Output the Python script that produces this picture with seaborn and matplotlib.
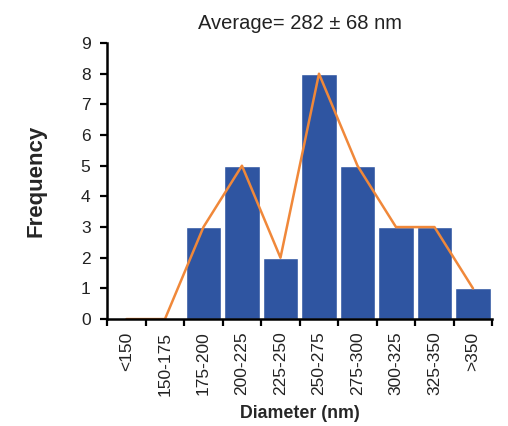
import numpy as np
import matplotlib
matplotlib.use("Agg")
import matplotlib.pyplot as plt
import seaborn as sns

categories = ["<150", "150-175", "175-200", "200-225", "225-250",
              "250-275", "275-300", "300-325", "325-350", ">350"]
frequency = [0, 0, 3, 5, 2, 8, 5, 3, 3, 1]
y_ticks = list(range(0, 10))

sns.set_style("ticks")
plt.rcParams["font.family"] = ["Liberation Sans", "DejaVu Sans"]

fig = plt.figure(figsize=(5.08, 4.26), dpi=100)
ax = fig.add_axes([0.211, 0.251, 0.758, 0.648])

pos = np.arange(len(categories))
sns.barplot(x=pos, y=frequency, color="#2F55A1", saturation=1, width=0.93,
            native_scale=True, ax=ax)
sns.lineplot(x=pos, y=frequency, color="#F0883A", linewidth=1.8, ax=ax)

ax.set_xlim(-0.5, len(categories) - 0.5)
ax.set_ylim(0, 9)
ax.set_yticks(y_ticks)
ax.set_xticks(pos)
ax.set_xticklabels(categories, rotation=90)
ax.set_xticks(np.arange(len(categories) + 1) - 0.5, minor=True)
ax.tick_params(axis="x", which="major", length=0, pad=9, labelsize=12.5, colors="#222222")
ax.tick_params(axis="x", which="minor", length=5, width=1.6, direction="out")
ax.tick_params(axis="y", length=5, width=1.6, direction="out", labelsize=12.5, pad=7,
               colors="#222222")
ax.tick_params(axis="both", which="both", color="black")
for s in ["top", "right"]:
    ax.spines[s].set_visible(False)
for s in ["left", "bottom"]:
    ax.spines[s].set_linewidth(1.8)
    ax.spines[s].set_color("black")

ax.set_ylabel("Frequency", fontsize=16, fontweight="bold", labelpad=25)
ax.set_xlabel("Diameter (nm)", fontsize=12.8, fontweight="bold", labelpad=7)
ax.set_title("Average= 282 \u00b1 68 nm", fontsize=14.5, pad=10, color="#222222")

fig.savefig("out.png", dpi=100)
